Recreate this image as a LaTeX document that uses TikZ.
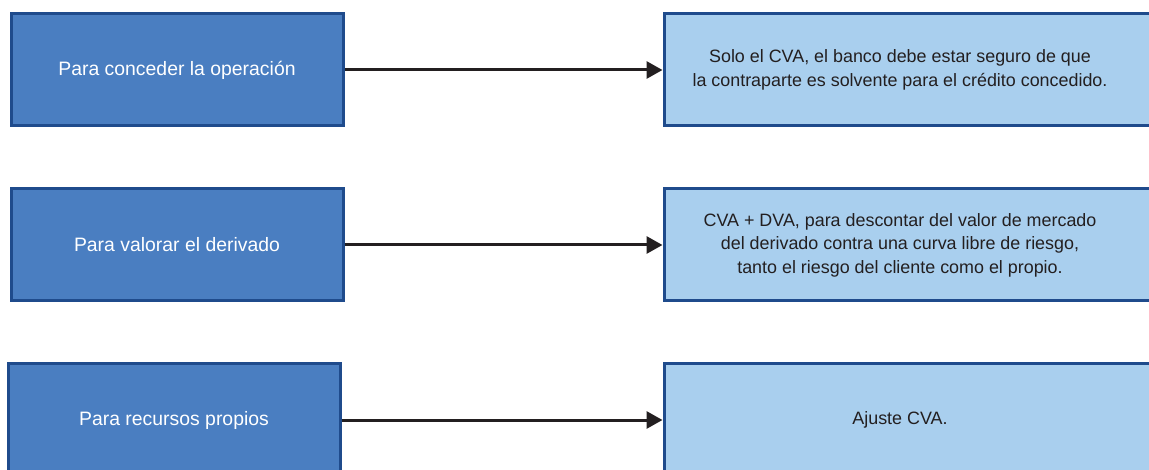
\documentclass[tikz,border=0pt]{standalone}
\usepackage{fontspec}
\setmainfont{Liberation Sans}
\usetikzlibrary{arrows.meta, positioning}

\definecolor{darkfill}{RGB}{74,126,193}
\definecolor{lightfill}{RGB}{169,207,238}
\definecolor{edgeblue}{RGB}{31,75,140}
\definecolor{inkblack}{RGB}{35,31,32}

\newcommand{\boxtext}[1]{\begin{tabular}{@{}c@{}}#1\end{tabular}\hspace{28pt}\mbox{}}

\tikzset{
  darkbox/.style = {draw = edgeblue, fill = darkfill, line width = 3pt,
    minimum width = 332pt, minimum height = 112pt, text = white,
    font = \fontsize{19.4}{23.5}\selectfont},
  lightbox/.style = {draw = edgeblue, fill = lightfill, line width = 3pt,
    minimum width = 500pt, minimum height = 112pt, text = inkblack,
    font = \fontsize{17.9}{23.5}\selectfont},
  link/.style = {-{Triangle[length = 16pt, width = 17pt]}, line width = 3pt,
    draw = inkblack}
}

\begin{document}
\begin{tikzpicture}[x = 1pt, y = -1pt, node distance = 175pt, on grid]
  \useasboundingbox (0,0) rectangle (1149,470);
  \node[darkbox] (conceder) at (177,70) {Para conceder la operación};
  \node[darkbox] (valorar) [below=of conceder] {Para valorar el derivado};
  \node[darkbox] (recursos) [below=of valorar, xshift=-3pt] {Para recursos propios};
  \node[lightbox] (solo) [right=737pt of conceder]
    {\boxtext{Solo el CVA, el banco debe estar seguro de que\\
      la contraparte es solvente para el crédito concedido.}};
  \node[lightbox] (dva) [right=737pt of valorar]
    {\boxtext{CVA + DVA, para descontar del valor de mercado\\
      del derivado contra una curva libre de riesgo,\\
      tanto el riesgo del cliente como el propio.}};
  \node[lightbox] (ajuste) [right=740pt of recursos] {\boxtext{Ajuste CVA.}};
  \draw[link] (conceder) -- (solo);
  \draw[link] (valorar) -- (dva);
  \draw[link] (recursos) -- (ajuste);
\end{tikzpicture}
\end{document}
